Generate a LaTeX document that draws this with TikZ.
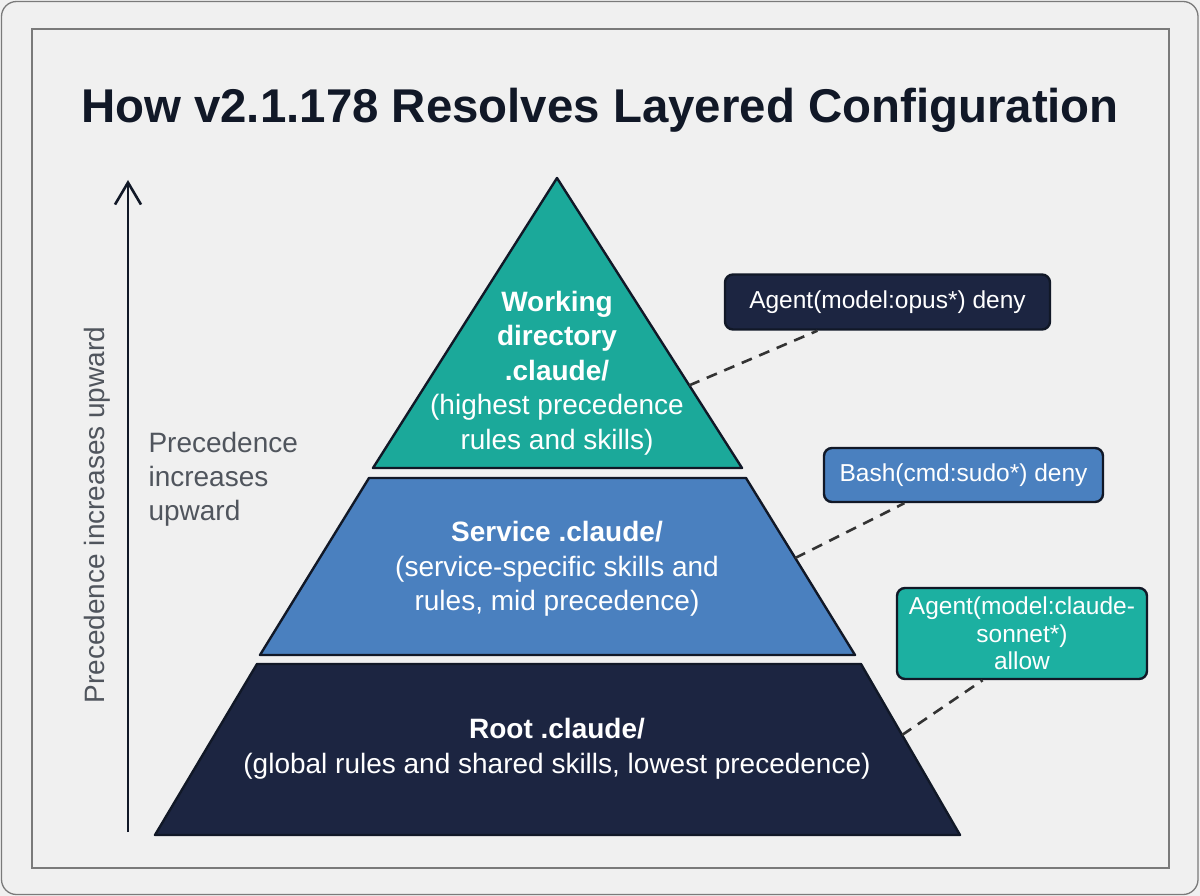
\documentclass[tikz,border=0pt]{standalone}
\usepackage{fontspec}
\setmainfont{Liberation Sans}
\usetikzlibrary{arrows.meta,calc}
\definecolor{bg}{HTML}{F0F0F0}
\definecolor{framegray}{HTML}{7A7A7A}
\definecolor{teal}{HTML}{1BA99A}
\definecolor{tealbox}{HTML}{1CB0A1}
\definecolor{midblue}{HTML}{4A80BF}
\definecolor{navy}{HTML}{1C2541}
\definecolor{outline}{HTML}{111827}
\definecolor{labelgray}{HTML}{50555D}
\definecolor{dashgray}{HTML}{333333}
\begin{document}
\begin{tikzpicture}[x=1pt,y=-1pt,
  layer/.style={draw=outline, line width=2.4pt, line join=round},
  layertext/.style={text=white, align=center, font=\fontsize{28}{34.5}\selectfont},
  callout/.style={draw=outline, line width=2.4pt, rounded corners=8pt, inner sep=0pt,
     text=white, align=center, font=\fontsize{24.5}{27.5}\selectfont},
  leader/.style={draw=dashgray, line width=2.6pt, dash pattern=on 11pt off 8pt},
  sidelabel/.style={text=labelgray, font=\fontsize{28}{34}\selectfont}]
\useasboundingbox (0,0) rectangle (1200,896);
\fill[bg] (0,0) rectangle (1200,896);
\draw[framegray, line width=1.3pt, rounded corners=15pt] (1.5,1.5) rectangle (1198,894.5);
\draw[framegray, line width=1.6pt] (32,29) rectangle (1169,868);

% title
\node[text=outline, font=\fontsize{47.4}{56}\selectfont\bfseries] (title) at (600,110)
  {How v2.1.178 Resolves Layered Configuration};

% pyramid corners
\coordinate (apex) at (557,178);
\coordinate (tbl) at (373,468);
\coordinate (tbr) at (742,468);
\coordinate (mtl) at (369,478);
\coordinate (mtr) at (746,478);
\coordinate (mbl) at (260,655);
\coordinate (mbr) at (855,655);
\coordinate (btl) at (257,664);
\coordinate (btr) at (861,664);
\coordinate (bbl) at (155,835);
\coordinate (bbr) at (960,835);

\path[layer, fill=teal] (apex) -- (tbr) -- (tbl) -- cycle;
\path[layer, fill=midblue] (mtl) -- (mtr) -- (mbr) -- (mbl) -- cycle;
\path[layer, fill=navy] (btl) -- (btr) -- (bbr) -- (bbl) -- cycle;

\node[layertext] (toptext) at (557,373)
  {\textbf{Working}\\\textbf{directory}\\\textbf{.claude/}\\(highest precedence\\rules and skills)};
\node[layertext] (midtext) at (557,569)
  {\textbf{Service .claude/}\\(service-specific skills and\\rules, mid precedence)};
\node[layertext] (bottext) at (557,749)
  {\textbf{Root .claude/}\\(global rules and shared skills, lowest precedence)};

% precedence axis
\coordinate (axbot) at (128,832);
\coordinate (axtop) at (128,180);
\draw[outline, line width=2.6pt, -{Straight Barb[length=22pt,width=26pt,line width=2.6pt]}] (axbot) -- (axtop);
\node[sidelabel, rotate=90] (vlabel) at (97,515) {Precedence increases upward};
\node[sidelabel, anchor=west, align=left] (hlabel) at (145,479) {Precedence\\increases\\upward};

% callouts
\node[callout, fill=navy, minimum width=325pt, minimum height=55pt] (c1) at (887.5,302)
  {Agent(model:opus*) deny};
\node[callout, fill=midblue, minimum width=279pt, minimum height=54pt] (c2) at (963.5,475)
  {Bash(cmd:sudo*) deny};
\node[callout, fill=tealbox, minimum width=250pt, minimum height=91pt] (c3) at (1022,633.5)
  {Agent(model:claude-\\sonnet*)\\allow};

\coordinate (e1) at ($(apex)!0.715!(tbr)$);
\coordinate (e2) at ($(mtr)!0.452!(mbr)$);
\coordinate (e3) at ($(btr)!0.415!(bbr)$);
\draw[leader] (e1) -- ($(c1.south west)!0.286!(c1.south east)$);
\draw[leader] (e2) -- ($(c2.south west)!0.29!(c2.south east)$);
\draw[leader] (e3) -- ($(c3.south west)!0.344!(c3.south east)$);
\end{tikzpicture}
\end{document}
